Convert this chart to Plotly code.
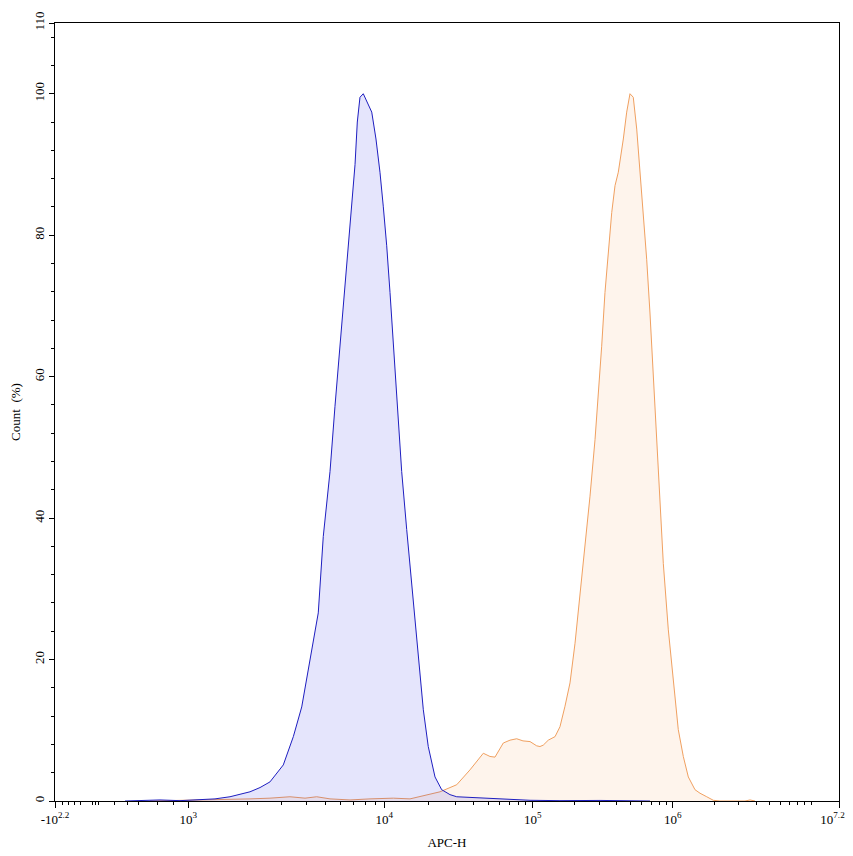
import numpy as np
import plotly.graph_objects as go

# x values are display channels of the APC-H axis (0 = left edge, 1000 = right edge)
blue_ch = [89.3, 108.4, 133.9, 159.4, 184.9, 204.1, 223.2, 236.0, 248.7, 261.5,
           274.2, 291.2, 304.0, 314.7, 327.4, 335.8, 342.2, 350.8, 357.1, 363.5,
           369.9, 374.1, 378.4, 382.7, 385.6, 389.0, 393.2, 397.6, 404.0, 409.4,
           414.5, 418.7, 423.1, 427.3, 431.5, 435.8, 442.2, 448.6, 457.0, 463.4,
           469.8, 476.1, 484.7, 493.2, 503.8, 512.4, 529.3, 546.3, 567.6, 588.9,
           605.9, 644.1, 695.2, 758.9]
blue_pct = [0, 0.1, 0.15, 0.05, 0.2, 0.3, 0.6, 0.9, 1.3, 1.9,
            2.7, 5.1, 9.1, 13.3, 21.4, 26.6, 37.4, 46.6, 55.8, 64.3,
            72.8, 78.5, 84.0, 90.0, 96.0, 99.5, 100, 99.0, 97.4, 93.6,
            88.9, 84.1, 78.5, 71.9, 64.3, 57.2, 46.6, 38.4, 28.0, 20.4,
            12.9, 7.7, 3.4, 1.6, 0.9, 0.6, 0.5, 0.4, 0.3, 0.15,
            0.1, 0.05, 0.08, 0]

orange_ch = [121.2, 184.9, 223.2, 248.7, 274.2, 299.7, 318.9, 333.8, 350.8, 376.3,
             401.8, 431.5, 452.8, 469.8, 491.1, 512.4, 529.3, 546.3, 554.8, 561.2,
             571.8, 580.4, 588.9, 596.9, 605.9, 614.4, 618.6, 622.8, 629.2, 637.8,
             644.1, 650.5, 656.9, 663.3, 669.6, 676.0, 682.4, 688.8, 693.0, 697.3,
             701.5, 705.7, 710.1, 714.3, 718.5, 724.9, 729.2, 733.4, 737.6, 742.0,
             746.2, 750.4, 754.7, 758.9, 763.1, 767.5, 771.7, 775.9, 782.3, 788.6,
             795.0, 801.4, 807.8, 816.3, 822.7, 831.3, 839.7, 848.2, 880.1, 886.5,
             892.9]
orange_pct = [0, 0.1, 0.2, 0.3, 0.4, 0.6, 0.4, 0.6, 0.3, 0.15,
              0.3, 0.4, 0.3, 0.7, 1.3, 2.3, 4.4, 6.75, 6.3, 6.2,
              8.2, 8.6, 8.8, 8.5, 8.4, 7.8, 7.7, 7.9, 8.6, 9.1,
              10.5, 13.4, 16.7, 22.3, 28.9, 36.0, 43.1, 51.1, 57.2, 64.3,
              71.9, 77.5, 83.2, 87.0, 88.9, 93.6, 97.4, 100, 99.5, 95.0,
              88.9, 82.3, 76.6, 69.0, 60.6, 51.5, 43.1, 33.6, 24.2, 16.7,
              10.1, 6.3, 3.4, 1.6, 1.1, 0.6, 0.1, 0, 0, 0.15,
              0]

# axis scale anchors: APC-H value -> display channel
SCALE_VAL = [-10 ** 2.2, 100, 400, 700, 1e3, 1e4, 1e5, 1e6, 10 ** 7.2]
SCALE_CH = [0, 40, 55.5, 106.3, 170, 420, 609.3, 787.9, 1000]

major_vals = [-10 ** 2.2, 1e3, 1e4, 1e5, 1e6, 10 ** 7.2]
# trailing no-break spaces pull the last label back inside the page edge
major_text = ["-10<sup>2.2</sup>", "10<sup>3</sup>", "10<sup>4</sup>",
              "10<sup>5</sup>", "10<sup>6</sup>", "10<sup>7.2</sup>" + "\u00a0" * 4]
minor_vals = [-100, -50, 0, 50, 200, 300, 400, 500, 600, 700, 800, 900] + \
    [m * 10 ** k for k in range(3, 7) for m in range(2, 10)] + [1e7]


def to_channel(v):
    v = np.asarray(v, dtype=float)
    lin = np.interp(v, SCALE_VAL[:2], SCALE_CH[:2])
    logv = np.log10(np.clip(v, 100, None))
    lg = np.interp(logv, np.log10(SCALE_VAL[1:]), SCALE_CH[1:])
    return np.where(v <= 100, lin, lg)


FONT = "Liberation Serif"

fig = go.Figure()

fig.add_trace(go.Scatter(
    x=orange_ch, y=orange_pct,
    mode='lines',
    line={'color': '#F0A060', 'width': 1},
    fill='tozeroy',
    fillcolor='rgba(244,164,96,0.12)',
    showlegend=False
))
fig.add_trace(go.Scatter(
    x=blue_ch, y=blue_pct,
    mode='lines',
    line={'color': '#1E1EC0', 'width': 1},
    fill='tozeroy',
    fillcolor='rgba(0,0,230,0.1)',
    showlegend=False
))

# page body adds an 8px offset, so the figure is a little smaller than the window
fig.update_layout(
    width=845, height=848,
    margin={'l': 47, 'r': 14, 't': 15, 'b': 55},
    plot_bgcolor='white',
    paper_bgcolor='white',
    font={'family': FONT, 'size': 13, 'color': 'black'},
    xaxis={
        'range': [0, 1000],
        'automargin': False,
        'showgrid': False, 'zeroline': False,
        'showline': True, 'linecolor': 'black', 'linewidth': 1, 'mirror': True,
        'tickmode': 'array',
        'tickvals': to_channel(major_vals).tolist(),
        'ticktext': major_text,
        'ticklabeloverflow': 'allow',
        'ticks': 'outside', 'ticklen': 6, 'tickcolor': 'black',
        'minor': {'tickvals': to_channel(minor_vals).tolist(), 'ticks': 'outside',
                  'ticklen': 3, 'tickcolor': 'black', 'showgrid': False},
        'title': {'text': 'APC-H', 'standoff': 12, 'font': {'size': 13}},
        'tickfont': {'size': 13},
    },
    yaxis={
        'range': [0, 110],
        'automargin': False,
        'showgrid': False, 'zeroline': False,
        'showline': True, 'linecolor': 'black', 'linewidth': 1, 'mirror': True,
        'tickmode': 'array',
        'tickvals': [0, 20, 40, 60, 80, 100, 110],
        'ticktext': ['0', '20', '40', '60', '80', '100', '110'],
        'tickangle': -90,
        'ticks': 'outside', 'ticklen': 5, 'tickcolor': 'black',
        'minor': {'tick0': 0, 'dtick': 4, 'ticks': 'outside', 'ticklen': 3,
                  'tickcolor': 'black', 'showgrid': False},
        'title': {'text': 'Count  (%)', 'standoff': 14, 'font': {'size': 13}},
        'tickfont': {'size': 13},
    },
)

fig.write_html("out.html")
